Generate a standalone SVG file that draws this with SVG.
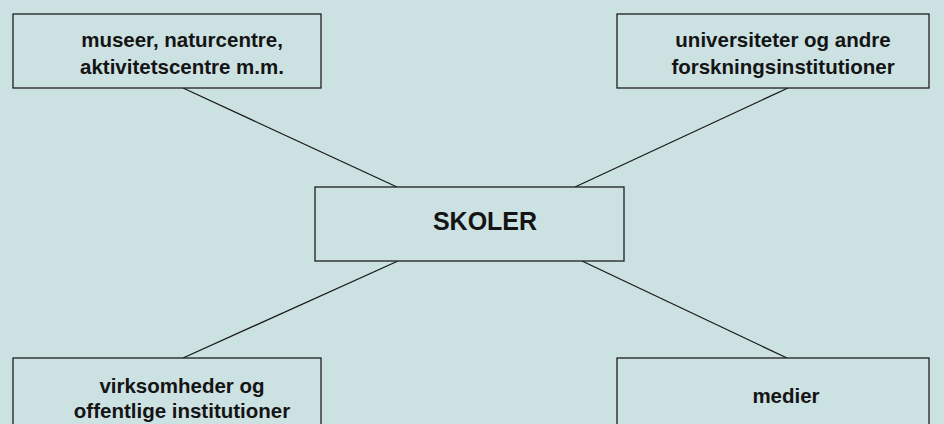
<svg xmlns="http://www.w3.org/2000/svg" width="944" height="424" viewBox="0 0 944 424">
<style>
.box{fill:#cce1e2;stroke:#1e1e1e;stroke-width:1.3}
.lbl{font-family:"Liberation Sans",Arial,sans-serif;font-weight:bold;font-size:20.5px;fill:#141414;text-anchor:middle}
.big{font-size:25px}
.con{stroke:#1a1a1a;stroke-width:1.3;fill:none}
</style>
<rect width="944" height="424" fill="#cce1e2"/>
<g id="connectors">
<line class="con" x1="183" y1="88" x2="397" y2="187"/>
<line class="con" x1="788" y1="88" x2="575" y2="187"/>
<line class="con" x1="398" y1="261" x2="183" y2="358"/>
<line class="con" x1="582" y1="261" x2="787" y2="358"/>
</g>
<g id="museer">
<rect class="box" x="13" y="14" width="308" height="74"/>
<text class="lbl" x="182" y="47">museer, naturcentre,</text>
<text class="lbl" x="182" y="74">aktivitetscentre m.m.</text>
</g>
<g id="universiteter">
<rect class="box" x="617" y="14" width="312" height="74"/>
<text class="lbl" x="783" y="47">universiteter og andre</text>
<text class="lbl" x="783" y="74">forskningsinstitutioner</text>
</g>
<g id="skoler">
<rect class="box" x="315" y="187" width="309" height="74"/>
<text class="lbl big" x="485" y="230">SKOLER</text>
</g>
<g id="virksomheder">
<rect class="box" x="13" y="358" width="308" height="80"/>
<text class="lbl" x="182" y="393">virksomheder og</text>
<text class="lbl" x="182" y="418">offentlige institutioner</text>
</g>
<g id="medier">
<rect class="box" x="617" y="358" width="312" height="80"/>
<text class="lbl" x="786" y="403">medier</text>
</g>
</svg>
